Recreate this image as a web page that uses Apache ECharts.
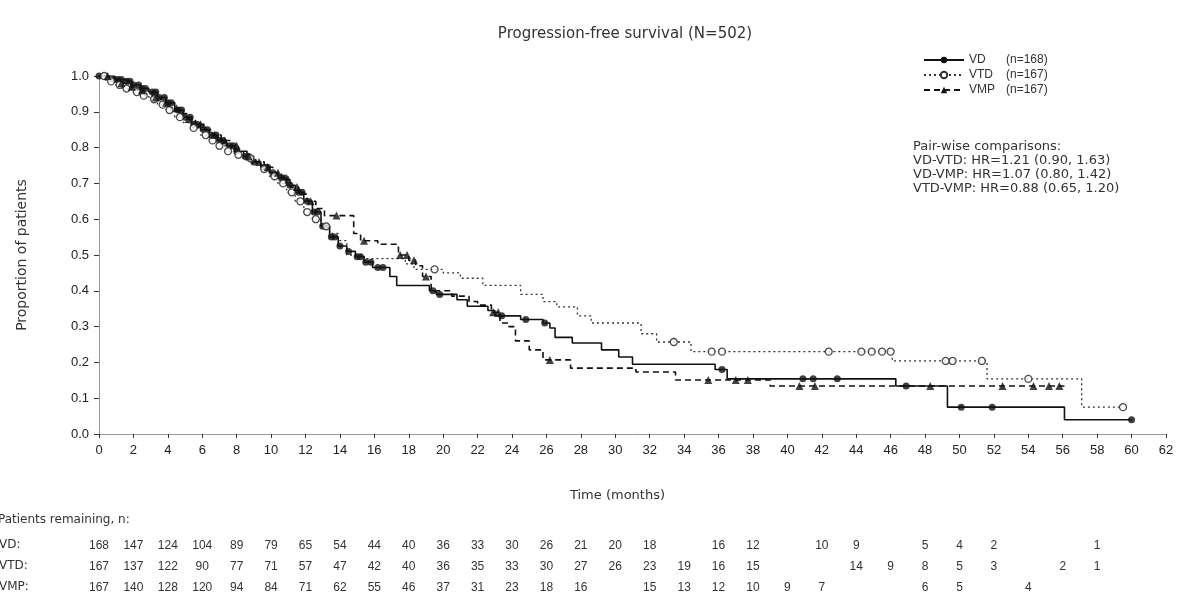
<!DOCTYPE html>
<html><head><meta charset="utf-8">
<script src="https://cdn.jsdelivr.net/npm/echarts@6/dist/echarts.min.js"></script>
<style>html,body{margin:0;padding:0;background:#fff}#c{width:1178px;height:599px}</style>
</head><body><div id="c"></div>
<script>
// ---- data ----
const seriesNames = ['VD', 'VTD', 'VMP'];
const seriesN = ['(n=168)', '(n=167)', '(n=167)'];

const vdT = [0,0.9,1.4,1.9,2.4,2.9,3.4,3.9,4.4,4.9,5.4,5.9,6.4,6.9,7.4,7.9,8.4,8.9,9.4,9.9,10.4,10.9,11.4,11.9,12.4,12.9,13.4,13.9,14.4,14.9,15.4,15.9,16.9,17.3,19.2,19.6,20.8,21.4,22.6,23.0,24.5,25.8,26.2,26.5,27.5,29.2,30.2,31.0,35.8,36.5,46.3,49.3,56.1];
const vdS = [1.0,0.99,0.985,0.975,0.965,0.955,0.94,0.925,0.905,0.885,0.865,0.85,0.835,0.82,0.805,0.79,0.775,0.76,0.745,0.73,0.715,0.695,0.675,0.65,0.62,0.58,0.55,0.525,0.51,0.495,0.48,0.465,0.44,0.415,0.40,0.39,0.375,0.357,0.345,0.33,0.32,0.31,0.296,0.27,0.254,0.235,0.215,0.195,0.18,0.154,0.134,0.075,0.04];
const vdEnd = 60;
const vdCens = [0,0.9,1.1,1.3,1.6,1.8,2.0,2.3,2.5,2.7,3.1,3.3,3.5,3.8,4.0,4.2,4.6,4.8,5.0,5.3,5.5,5.7,6.1,6.3,6.5,6.8,7.0,7.2,7.6,7.8,8.0,8.5,8.7,9.0,9.6,9.8,10.1,10.6,10.8,11.1,11.6,11.8,12.1,12.5,12.7,13.0,13.2,13.5,13.7,14.0,14.5,15.0,15.2,15.5,15.8,16.2,16.5,19.4,19.8,23.4,24.8,25.9,36.2,40.9,41.5,42.9,46.9,50.1,51.9,60];

const vtdT = [0,0.4,0.9,1.4,1.9,2.4,2.9,3.4,3.9,4.4,4.9,5.4,5.9,6.4,6.9,7.4,7.9,8.4,8.9,9.4,9.9,10.4,10.9,11.4,11.9,12.4,12.9,13.4,13.9,14.4,15.4,17.8,18.3,20.0,21.0,22.3,24.5,25.8,26.6,27.8,28.6,31.5,32.4,34.4,46.1,51.6,57.1];
const vtdS = [1.0,0.985,0.975,0.965,0.955,0.945,0.935,0.92,0.905,0.885,0.87,0.855,0.835,0.82,0.805,0.79,0.78,0.77,0.755,0.74,0.72,0.70,0.675,0.65,0.62,0.60,0.58,0.56,0.54,0.50,0.49,0.475,0.46,0.45,0.435,0.415,0.39,0.37,0.355,0.33,0.31,0.28,0.257,0.23,0.204,0.154,0.075];
const vtdEnd = 59.5;
const vtdCens = [0.3,0.7,1.2,1.6,2.2,2.6,3.2,3.7,4.1,4.7,5.5,6.2,6.6,7.0,7.5,8.1,8.8,9.6,10.2,10.7,11.2,11.7,12.1,12.6,13.2,19.5,33.4,35.6,36.2,42.4,44.3,44.9,45.5,46.0,49.2,49.6,51.3,54.0,59.5];

const vmpT = [0,0.6,1.1,1.6,2.1,2.6,3.1,3.6,4.1,4.6,5.1,5.6,6.1,6.6,7.1,7.6,8.1,8.6,9.1,9.6,10.1,10.6,11.1,11.6,12.1,12.6,13.1,14.8,15.2,16.2,17.4,18.0,18.4,18.8,19.3,20.5,21.5,22.0,22.8,23.3,23.8,24.2,25.0,25.8,27.4,31.2,33.5,39.0];
const vmpS = [1.0,0.99,0.98,0.97,0.96,0.95,0.94,0.925,0.91,0.895,0.88,0.865,0.85,0.835,0.82,0.805,0.79,0.775,0.76,0.745,0.73,0.71,0.69,0.67,0.65,0.63,0.61,0.56,0.54,0.53,0.50,0.485,0.47,0.44,0.40,0.385,0.37,0.36,0.34,0.31,0.30,0.26,0.235,0.207,0.184,0.173,0.151,0.134];
const vmpEnd = 56.1;
const vmpCens = [0.5,1.3,1.9,2.5,3.3,3.9,4.5,5.2,5.9,6.7,7.3,8.0,8.7,9.3,9.8,10.4,11.0,11.5,12.3,13.8,15.4,17.5,17.9,18.3,19.0,22.9,23.2,26.2,35.4,37.0,37.7,40.7,41.6,48.3,52.5,54.3,55.2,55.8];

const tableMonths = [0,2,4,6,8,10,12,14,16,18,20,22,24,26,28,30,32,34,36,38,40,42,44,46,48,50,52,54,56,58,60];
const riskVD  = [168,147,124,104,89,79,65,54,44,40,36,33,30,26,21,20,18,null,16,12,null,10,9,null,5,4,2,null,null,1,null];
const riskVTD = [167,137,122,90,77,71,57,47,42,40,36,35,33,30,27,26,23,19,16,15,null,null,14,9,8,5,3,null,2,1,null];
const riskVMP = [167,140,128,120,94,84,71,62,55,46,37,31,23,18,16,null,15,13,12,10,9,7,null,null,6,5,null,4,null,null,null];
const riskLabels = ['VD:', 'VTD:', 'VMP:'];

const hrLines = ['Pair-wise comparisons:', 'VD-VTD: HR=1.21 (0.90, 1.63)', 'VD-VMP: HR=1.07 (0.80, 1.42)', 'VTD-VMP: HR=0.88 (0.65, 1.20)'];

// ---- helpers ----
function stepData(T, S, end) {
  const d = T.map((t, i) => [t, S[i]]);
  d.push([end, S[S.length - 1]]);
  return d;
}
function survAt(T, S, t) {
  let v = S[0];
  for (let i = 0; i < T.length; i++) { if (T[i] <= t) v = S[i]; }
  return v;
}
function censData(T, S, C) { return C.map(t => [t, survAt(T, S, t)]); }

const FONT = 'Liberation Sans, Arial, sans-serif';
const WIDE = 'DejaVu Sans, sans-serif';
const chart = echarts.init(document.getElementById('c'), null, {renderer: 'canvas'});

const option = {
  animation: false,
  backgroundColor: '#fff',
  textStyle: {fontFamily: FONT},
  title: {
    text: 'Progression-free survival (N=502)',
    left: 620, top: 22, textAlign: 'center',
    textStyle: {fontSize: 15, fontWeight: 'normal', color: '#333', fontFamily: WIDE}
  },
  grid: {left: 99, right: 12, top: 76, bottom: 165, containLabel: false},
  legend: {
    orient: 'vertical', left: 918, top: 49,
    itemWidth: 40, itemHeight: 8, itemGap: 3,
    data: seriesNames,
    formatter: name => '{a|' + name + '}{b|' + seriesN[seriesNames.indexOf(name)] + '}',
    textStyle: {
      color: '#333', fontSize: 12, fontFamily: FONT,
      rich: {a: {width: 37, fontSize: 12, color: '#333', fontFamily: FONT}, b: {fontSize: 12, color: '#333', fontFamily: FONT}}
    }
  },
  xAxis: {
    type: 'value', min: 0, max: 62, interval: 2,
    name: 'Time (months)', nameLocation: 'middle', nameGap: 55,
    nameTextStyle: {fontSize: 13, color: '#333', fontFamily: WIDE, padding: [0, 30, 0, 0]},
    axisLine: {show: true, lineStyle: {color: '#999', width: 1}},
    axisTick: {show: true, length: 4, lineStyle: {color: '#333'}},
    axisLabel: {fontSize: 13, color: '#222', margin: 10, fontFamily: FONT},
    splitLine: {show: false}
  },
  yAxis: {
    type: 'value', min: 0, max: 1, interval: 0.1,
    name: 'Proportion of patients', nameLocation: 'middle', nameGap: 70,
    nameTextStyle: {fontSize: 14, color: '#333', fontFamily: WIDE},
    axisLine: {show: true, lineStyle: {color: '#999', width: 1}},
    axisTick: {show: true, length: 5, lineStyle: {color: '#333'}},
    axisLabel: {fontSize: 13, color: '#222', margin: 10, fontFamily: FONT, formatter: v => v.toFixed(1)},
    splitLine: {show: false}
  },
  series: [
    {name: 'VD', type: 'line', step: 'end', data: stepData(vdT, vdS, vdEnd),
     showSymbol: false, symbol: 'circle', symbolSize: 7,
     itemStyle: {color: '#111'}, lineStyle: {color: '#111', width: 1.6, type: 'solid'}, z: 3},
    {name: 'VTD', type: 'line', step: 'end', data: stepData(vtdT, vtdS, vtdEnd),
     showSymbol: false, symbol: 'emptyCircle', symbolSize: 7,
     itemStyle: {color: '#333', borderColor: '#333'}, lineStyle: {color: '#333', width: 1.3, type: [2, 3]}, z: 2},
    {name: 'VMP', type: 'line', step: 'end', data: stepData(vmpT, vmpS, vmpEnd),
     showSymbol: false, symbol: 'triangle', symbolSize: 8,
     itemStyle: {color: '#111'}, lineStyle: {color: '#111', width: 1.6, type: [6, 4]}, z: 2},
    {name: 'VD', type: 'scatter', data: censData(vdT, vdS, vdCens), symbol: 'circle', symbolSize: 7,
     itemStyle: {color: '#111'}, z: 4},
    {name: 'VTD', type: 'scatter', data: censData(vtdT, vtdS, vtdCens), symbol: 'circle', symbolSize: 7,
     itemStyle: {color: '#fff', borderColor: '#222', borderWidth: 1.3}, z: 4},
    {name: 'VMP', type: 'scatter', data: censData(vmpT, vmpS, vmpCens), symbol: 'triangle', symbolSize: 8,
     itemStyle: {color: '#111'}, z: 4}
  ]
};
chart.setOption(option);

// ---- text blocks: pair-wise comparisons and patients-at-risk table ----
const graphics = [];
graphics.push({
  type: 'text', left: 913, top: 140,
  style: {text: hrLines.join('\n'), fontSize: 13, lineHeight: 14, fill: '#333', fontFamily: WIDE}
});
graphics.push({type: 'text', left: -2, top: 514, style: {text: 'Patients remaining, n:', fontSize: 12, fill: '#333', fontFamily: WIDE}});
const rows = [riskVD, riskVTD, riskVMP];
const rowY = [546, 567, 588];
rows.forEach((row, r) => {
  graphics.push({type: 'text', left: -1, top: rowY[r] - 7, style: {text: riskLabels[r], fontSize: 12, fill: '#333', fontFamily: WIDE}});
  row.forEach((v, i) => {
    if (v === null) return;
    const x = chart.convertToPixel({xAxisIndex: 0}, tableMonths[i]);
    graphics.push({type: 'text', x: x, y: rowY[r],
      style: {text: String(v), fontSize: 12, fill: '#333', fontFamily: FONT, align: 'center', verticalAlign: 'middle'}});
  });
});
chart.setOption({graphic: graphics});
</script>
</body></html>
